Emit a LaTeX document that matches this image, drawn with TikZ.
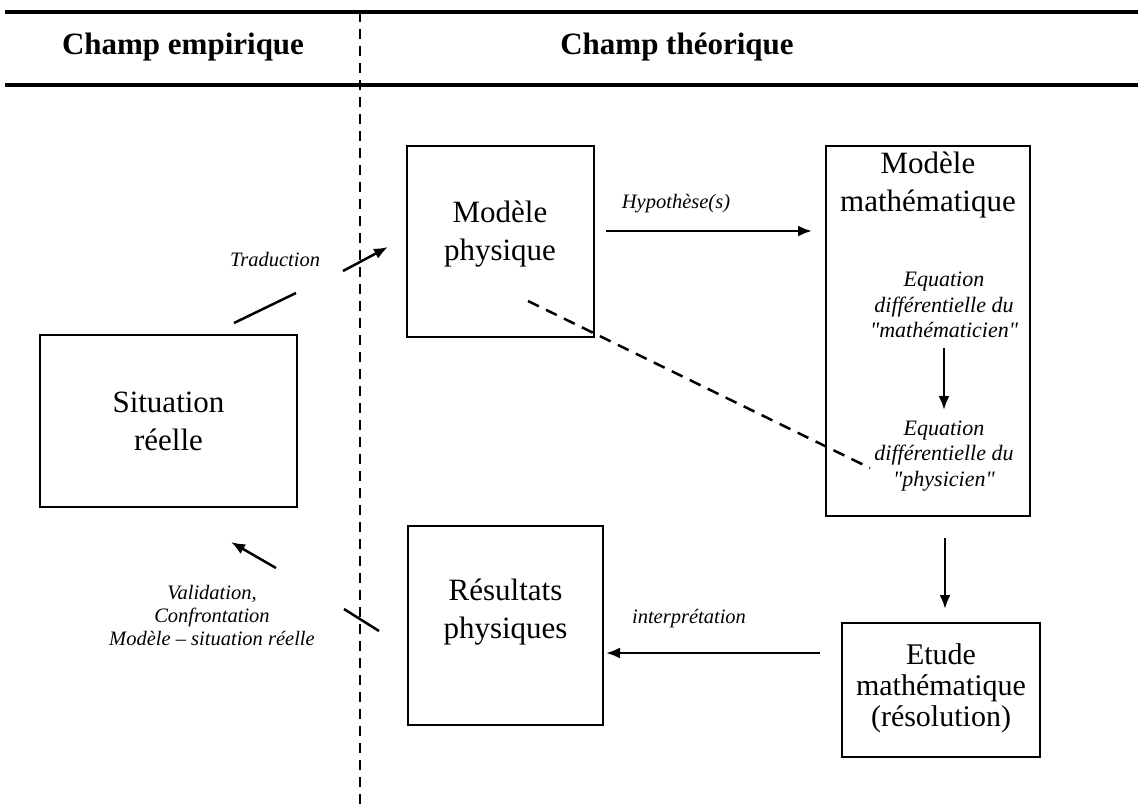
\documentclass[tikz,border=0pt]{standalone}
\usepackage{fontspec}
\setmainfont{Liberation Serif}
\newfontfamily\itq{Liberation Serif}[Ligatures=TeXOff]
\usetikzlibrary{arrows.meta}
\begin{document}
\begin{tikzpicture}[x=1pt,y=-1pt,
  box/.style={draw,line width=2pt,inner sep=0pt},
  bigtxt/.style={inner sep=0pt,align=center,font=\fontsize{31}{38}\selectfont},
  ittxt/.style={inner sep=0pt,align=center,font=\fontsize{22}{25.5}\itq\itshape\selectfont},
  lab/.style={inner sep=0pt,font=\fontsize{20.5}{23}\itshape\selectfont},
  head/.style={inner sep=0pt,font=\fontsize{31}{36}\bfseries\selectfont},
  rule/.style={line width=3.5pt},
  arr/.style={line width=2.5pt,-{Latex[length=14pt,width=11pt]}},
  seg/.style={line width=2.5pt},
  dashline/.style={line width=2.5pt,dash pattern=on 12pt off 8pt},
  vdashline/.style={line width=1.8pt,dash pattern=on 10pt off 7pt}]
\useasboundingbox (0,0) rectangle (1138,807);
% header
\coordinate (tl) at (5,12); \coordinate (tr) at (1138,12);
\coordinate (bl) at (5,85); \coordinate (br) at (1138,85);
\draw[rule] (tl) -- (tr);
\draw[rule] (bl) -- (br);
\coordinate (vt) at (360,12); \coordinate (vb) at (360,807);
\draw[vdashline] (vt) -- (vb);
\node[head] (h1) at (183,47) {Champ empirique};
\node[head] (h2) at (677,47) {Champ théorique};
% boxes
\node[box,minimum width=187,minimum height=191] (phys) at (500,241.5) {};
\node[bigtxt] (physt) at (500,234) {Modèle\\physique};
\node[box,minimum width=257,minimum height=172] (sit) at (168.5,421) {};
\node[bigtxt] (sitt) at (168.5,421) {Situation\\réelle};
\node[box,minimum width=195,minimum height=199] (res) at (505.5,625) {};
\node[bigtxt] (rest) at (505.5,612) {Résultats\\physiques};
\node[box,minimum width=204,minimum height=370] (math) at (928,331) {};
\node[box,minimum width=198,minimum height=134] (etude) at (941,690) {};
\node[bigtxt,font=\fontsize{30}{31}\selectfont] (etudet) at (941,688) {Etude\\mathématique\\(résolution)};
% math box content
\node[bigtxt] (mt) at (928,185) {Modèle\\mathématique};
\node[ittxt] (eq1) at (944,305) {Equation\\différentielle du\\"mathématicien"};
\node[ittxt] (eq2) at (944,456) {Equation\\différentielle du\\"physicien"};
\coordinate (a1) at (944,348); \coordinate (a2) at (944,410);
\draw[arr] (a1) -- (a2);
% arrows
\coordinate (hyS) at (606,231); \coordinate (hyE) at (812,231);
\draw[arr] (hyS) -- (hyE);
\node[lab] (hyl) at (676,204) {Hypothèse(s)};
\coordinate (meS) at (945,538); \coordinate (meE) at (945,609);
\draw[arr] (meS) -- (meE);
\coordinate (inS) at (820,653); \coordinate (inE) at (606,653);
\draw[arr] (inS) -- (inE);
\node[lab] (inl) at (689,619) {interprétation};
\coordinate (trA) at (234,323); \coordinate (trB) at (296,293);
\draw[seg] (trA) -- (trB);
\coordinate (trC) at (343,271); \coordinate (trD) at (388,247);
\draw[arr] (trC) -- (trD);
\node[lab] (trl) at (275,259) {Traduction};
\coordinate (vaA) at (276,568); \coordinate (vaB) at (231,542);
\draw[arr] (vaA) -- (vaB);
\coordinate (vaC) at (344,609); \coordinate (vaD) at (379,631);
\draw[seg] (vaC) -- (vaD);
\node[lab,align=center] (val) at (212,615) {Validation,\\Confrontation\\Modèle – situation réelle};
\coordinate (dA) at (528,301); \coordinate (dB) at (870,468);
\draw[dashline] (dA) -- (dB);
\end{tikzpicture}
\end{document}
